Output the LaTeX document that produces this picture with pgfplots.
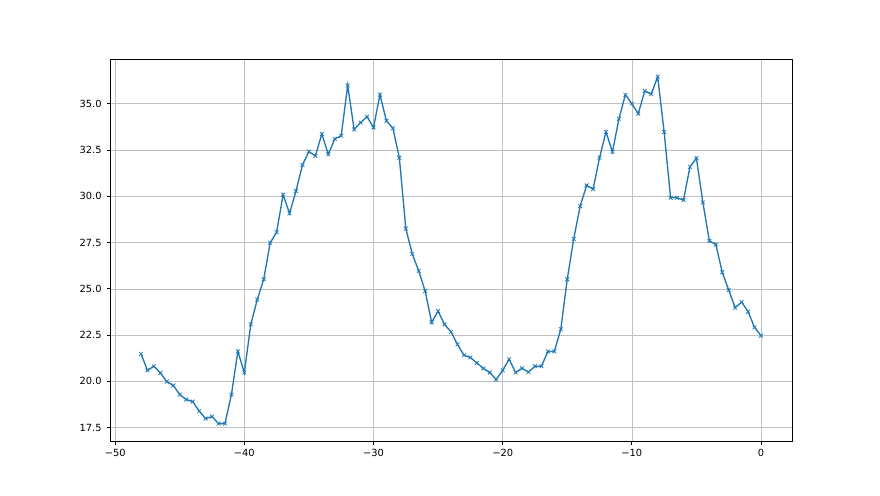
\documentclass[border=0pt]{standalone}
\usepackage{pgfplots}
\pgfplotsset{compat=1.18}
\usepackage{fontspec}
\setmainfont{DejaVu Sans}
\definecolor{mplblue}{HTML}{1F77B4}
\definecolor{gridgray}{HTML}{B0B0B0}
\begin{document}
\begin{tikzpicture}
\path (0,0) rectangle (22cm,12.375cm);
\begin{axis}[
  at={(2.75cm,1.35cm)}, anchor=south west,
  scale only axis, width=17.05cm, height=9.55cm,
  xmin=-50.4, xmax=2.4, ymin=16.78, ymax=37.42,
  xtick={-50,-40,-30,-20,-10,0},
  xticklabels={−50,−40,−30,−20,−10,0},
  ytick={17.5,20,22.5,25,27.5,30,32.5,35},
  yticklabel style={/pgf/number format/.cd,fixed,fixed zerofill,precision=1},
  /pgf/number format/assume math mode=true,
  tick label style={font=\fontsize{7}{8}\selectfont},
  tick align=outside, major tick length=0.0875cm,
  xtick pos=bottom, ytick pos=left,
  grid=major, major grid style={gridgray!80, line width=0.45pt},
  axis line style={black, line width=0.55pt},
  tick style={black, line width=0.55pt},
]
\addplot[mplblue, line width=0.95pt, mark=x, mark size=1.9pt, mark options={line width=0.55pt}] coordinates {
(-48,21.49) (-47.5,20.6) (-47,20.82) (-46.5,20.46) (-46,19.99) (-45.5,19.78)
(-45,19.29) (-44.5,19.02) (-44,18.91) (-43.5,18.40) (-43,17.99) (-42.5,18.10)
(-42,17.72) (-41.5,17.72) (-41,19.29) (-40.5,21.62) (-40,20.48) (-39.5,23.08)
(-39,24.42) (-38.5,25.52) (-38,27.49) (-37.5,28.06) (-37,30.09) (-36.5,29.08)
(-36,30.29) (-35.5,31.70) (-35,32.42) (-34.5,32.18) (-34,33.37) (-33.5,32.27)
(-33,33.10) (-32.5,33.27) (-32,35.99) (-31.5,33.61) (-31,33.99) (-30.5,34.30)
(-30,33.72) (-29.5,35.49) (-29,34.08) (-28.5,33.68) (-28,32.09) (-27.5,28.26)
(-27,26.89) (-26.5,25.97) (-26,24.88) (-25.5,23.19) (-25,23.80) (-24.5,23.08)
(-24,22.68) (-23.5,22.00) (-23,21.42) (-22.5,21.29) (-22,21.0) (-21.5,20.70)
(-21,20.48) (-20.5,20.10) (-20,20.60) (-19.5,21.20) (-19,20.48) (-18.5,20.71)
(-18,20.50) (-17.5,20.82) (-17,20.82) (-16.5,21.62) (-16,21.62) (-15.5,22.82)
(-15,25.52) (-14.5,27.70) (-14,29.47) (-13.5,30.59) (-13,30.39) (-12.5,32.09)
(-12,33.48) (-11.5,32.40) (-11,34.19) (-10.5,35.49) (-10,35.0) (-9.5,34.47)
(-9,35.70) (-8.5,35.52) (-8,36.46) (-7.5,33.48) (-7,29.92) (-6.5,29.92)
(-6,29.80) (-5.5,31.59) (-5,32.06) (-4.5,29.67) (-4,27.59) (-3.5,27.40)
(-3,25.90) (-2.5,24.94) (-2,23.98) (-1.5,24.29) (-1,23.77) (-0.5,22.92)
(0,22.47)
};
\end{axis}
\end{tikzpicture}
\end{document}
